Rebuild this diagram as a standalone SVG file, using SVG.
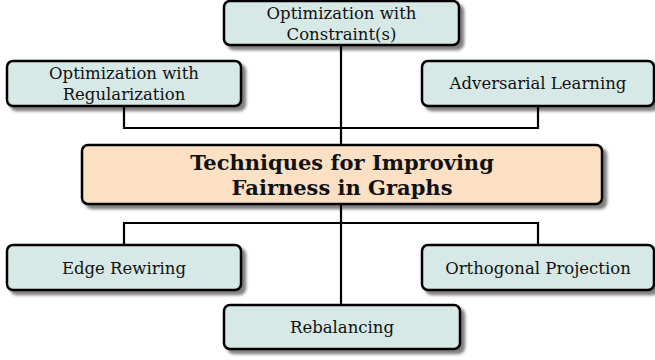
<svg xmlns="http://www.w3.org/2000/svg" width="655" height="360" viewBox="0 0 655 360">
<defs>
<filter id="sh" x="-10%" y="-20%" width="130%" height="160%">
<feGaussianBlur in="SourceAlpha" stdDeviation="1.8"/>
<feOffset dx="4" dy="4" result="b"/>
<feComponentTransfer><feFuncA type="linear" slope="0.5"/></feComponentTransfer>
<feMerge><feMergeNode/><feMergeNode in="SourceGraphic"/></feMerge>
</filter>
</defs>
<style>
.box{fill:#d6e9e6;stroke:#000;stroke-width:2.5;filter:url(#sh)}
.main{fill:#fce0c4;stroke:#000;stroke-width:2.5;filter:url(#sh)}
.t{font-family:"DejaVu Serif","Liberation Serif",serif;font-size:16.5px;fill:#111;text-anchor:middle}
.tb{font-family:"DejaVu Serif","Liberation Serif",serif;font-size:21px;font-weight:bold;fill:#111;text-anchor:middle}
.c{fill:none;stroke:#000;stroke-width:2.2}
</style>
<g id="connectors">
<path class="c" d="M341 45 V145"/>
<path class="c" d="M124 106 V128 H538 V106"/>
<path class="c" d="M341 204 V305"/>
<path class="c" d="M124 245 V223 H538 V245"/>
</g>
<g id="n-constraints">
<rect class="box" x="224" y="1" width="235" height="44" rx="6"/>
<text class="t" x="341.5" y="19">Optimization with</text>
<text class="t" x="341.5" y="40">Constraint(s)</text>
</g>
<g id="n-regularization">
<rect class="box" x="7" y="61" width="234" height="45" rx="6"/>
<text class="t" x="124" y="79">Optimization with</text>
<text class="t" x="124" y="100">Regularization</text>
</g>
<g id="n-adversarial">
<rect class="box" x="422" y="61" width="232" height="45" rx="6"/>
<text class="t" x="538" y="89">Adversarial Learning</text>
</g>
<g id="n-main">
<rect class="main" x="82" y="145" width="520" height="59" rx="6"/>
<text class="tb" x="342" y="170">Techniques for Improving</text>
<text class="tb" x="342" y="195">Fairness in Graphs</text>
</g>
<g id="n-edge">
<rect class="box" x="7" y="245" width="234" height="45" rx="6"/>
<text class="t" x="124" y="274">Edge Rewiring</text>
</g>
<g id="n-orthogonal">
<rect class="box" x="422" y="245" width="232" height="45" rx="6"/>
<text class="t" x="538" y="274">Orthogonal Projection</text>
</g>
<g id="n-rebalancing">
<rect class="box" x="224" y="305" width="236" height="44" rx="6"/>
<text class="t" x="342" y="333">Rebalancing</text>
</g>
</svg>
